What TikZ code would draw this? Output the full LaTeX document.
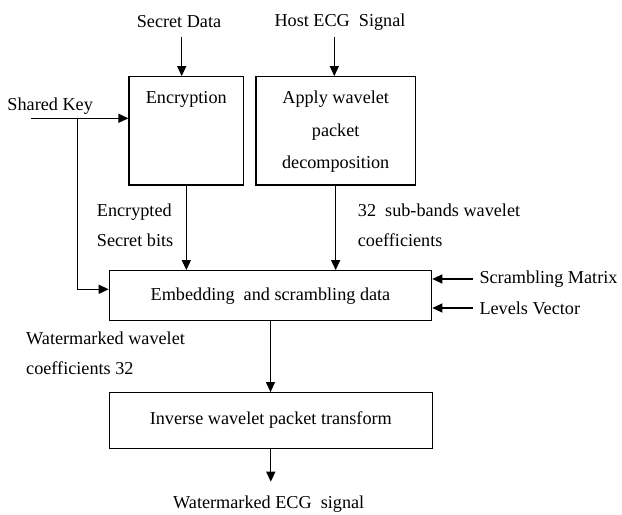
\documentclass[tikz,border=0pt]{standalone}
\usepackage{fontspec}
\setmainfont{Liberation Serif}
\usetikzlibrary{arrows.meta}
\begin{document}
\begin{tikzpicture}[x=1bp,y=-1bp,
  box/.style={draw, line width=1.2bp, inner sep=0pt},
  lbl/.style={font=\fontsize{18.2bp}{30bp}\selectfont, inner sep=0pt},
  arr/.style={line width=1.2bp, -{Triangle[length=10bp,width=9bp]}}]
\useasboundingbox (0,0) rectangle (622,515);
% boxes
\node[box, minimum width=114.7bp, minimum height=108.3bp] (enc) at (186.35,130.85) {};
\node[box, minimum width=159.3bp, minimum height=108.3bp] (wpd) at (335.65,130.85) {};
\node[box, minimum width=322.4bp, minimum height=50bp] (emb) at (270.5,295.7) {};
\node[box, minimum width=323bp, minimum height=55.6bp] (inv) at (270.8,420.5) {};
% texts
\node[lbl] (secret) at (179,22) {Secret Data};
\node[lbl] (host) at (340,22) {Host ECG\ \ Signal};
\node[lbl, anchor=west] (shared) at (7.3,106) {Shared Key};
\node[lbl] (encT) at (186.3,99.3) {Encryption};
\node[lbl, align=center, font=\fontsize{18.2bp}{32.5bp}\selectfont] (wpdT) at (335.7,131.7) {Apply wavelet\\packet\\decomposition};
\node[lbl, align=left, anchor=west] (encbits) at (96.7,225) {Encrypted\\Secret bits};
\node[lbl, align=left, anchor=west] (sub) at (357.7,225) {32\ \ sub-bands wavelet\\coefficients};
\node[lbl] (embT) at (270.5,295.7) {Embedding\ \ and scrambling data};
\node[lbl, anchor=west] (scr) at (479.3,279) {Scrambling Matrix};
\node[lbl, anchor=west] (lev) at (479.3,308) {Levels Vector};
\node[lbl, align=left, anchor=west] (wm) at (26,353.5) {Watermarked wavelet\\coefficients 32};
\node[lbl] (invT) at (270.8,420.5) {Inverse wavelet packet transform};
\node[lbl, anchor=west] (out) at (173,504) {Watermarked ECG\ \ signal};
% connectors
\coordinate (sd) at (181.7,36.7);
\draw[arr] (sd) -- (sd |- enc.north);
\coordinate (hs) at (334.3,36.7);
\draw[arr] (hs) -- (hs |- wpd.north);
\coordinate (sk) at (31,118.3);
\draw[arr] (sk) -- (sk -| enc.west);
\coordinate (br) at (77.3,118.3);
\coordinate (kin) at (77.3,289.3);
\draw[arr] (br) -- (kin) -- (kin -| emb.west);
\draw[arr] (enc.south) -- (enc.south |- emb.north);
\draw[arr] (wpd.south) -- (wpd.south |- emb.north);
\draw[arr] ([xshift=-6.6bp]scr.west) -- (scr.west -| emb.east);
\draw[arr] ([xshift=-6.6bp]lev.west) -- (lev.west -| emb.east);
\draw[arr] (emb.south) -- (emb.south |- inv.north);
\coordinate (o) at (270.8,481.7);
\draw[arr] (inv.south) -- (o);
\end{tikzpicture}
\end{document}
